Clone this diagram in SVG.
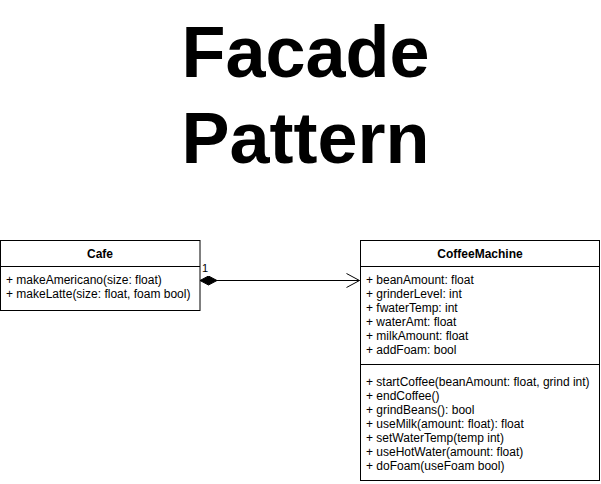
<svg xmlns="http://www.w3.org/2000/svg" width="601" height="484" viewBox="0 0 601 484">
<defs>
<style>
.box{fill:#fff;stroke:#000;stroke-width:1}
.ln{stroke:#000;stroke-width:1;fill:none}
.t{font-family:"Liberation Sans",Arial,sans-serif;font-size:12px;fill:#000}
.h{font-family:"Liberation Sans",Arial,sans-serif;font-size:12px;font-weight:bold;fill:#000;text-anchor:middle}
.title{font-family:"Liberation Sans",Arial,sans-serif;font-size:72px;font-weight:bold;fill:#000;text-anchor:middle}
</style>
<marker id="diamond" markerWidth="18" markerHeight="10" refX="0" refY="5" orient="auto" markerUnits="userSpaceOnUse">
<path d="M0,5 L8.5,0.5 L17,5 L8.5,9.5 Z" fill="#000" stroke="#000"/>
</marker>
<marker id="open" markerWidth="16" markerHeight="16" refX="14" refY="8" orient="auto" markerUnits="userSpaceOnUse">
<path d="M1,1 L14,8 L1,15" fill="none" stroke="#000"/>
</marker>
</defs>
<rect width="601" height="484" fill="#fff"/>
<g id="title">
<text class="title" x="305.5" y="77">Facade</text>
<text class="title" x="305.5" y="163">Pattern</text>
</g>
<g id="cafe">
<rect class="box" x="0.5" y="240.5" width="199.5" height="70"/>
<line class="ln" x1="0.5" y1="266.5" x2="200" y2="266.5"/>
<text class="h" x="100" y="258">Cafe</text>
<text class="t" x="6" y="284">+ makeAmericano(size: float)</text>
<text class="t" x="6" y="298">+ makeLatte(size: float, foam bool)</text>
</g>
<g id="coffeemachine">
<rect class="box" x="360.5" y="240.5" width="239" height="240"/>
<line class="ln" x1="360.5" y1="266.5" x2="599.5" y2="266.5"/>
<line class="ln" x1="360.5" y1="364.5" x2="599.5" y2="364.5"/>
<text class="h" x="480" y="258">CoffeeMachine</text>
<text class="t" x="366" y="284">+ beanAmount: float</text>
<text class="t" x="366" y="298">+ grinderLevel: int</text>
<text class="t" x="366" y="312">+ fwaterTemp: int</text>
<text class="t" x="366" y="326">+ waterAmt: float</text>
<text class="t" x="366" y="340">+ milkAmount: float</text>
<text class="t" x="366" y="354">+ addFoam: bool</text>
<text class="t" x="366" y="386">+ startCoffee(beanAmount: float, grind int)</text>
<text class="t" x="366" y="400">+ endCoffee()</text>
<text class="t" x="366" y="414">+ grindBeans(): bool</text>
<text class="t" x="366" y="428">+ useMilk(amount: float): float</text>
<text class="t" x="366" y="442">+ setWaterTemp(temp int)</text>
<text class="t" x="366" y="456">+ useHotWater(amount: float)</text>
<text class="t" x="366" y="470">+ doFoam(useFoam bool)</text>
</g>
<g id="connectors">
<line class="ln" x1="200" y1="280.5" x2="359.5" y2="280.5" marker-start="url(#diamond)" marker-end="url(#open)"/>
<text class="t" x="202" y="272" style="font-size:11px">1</text>
</g>
</svg>
